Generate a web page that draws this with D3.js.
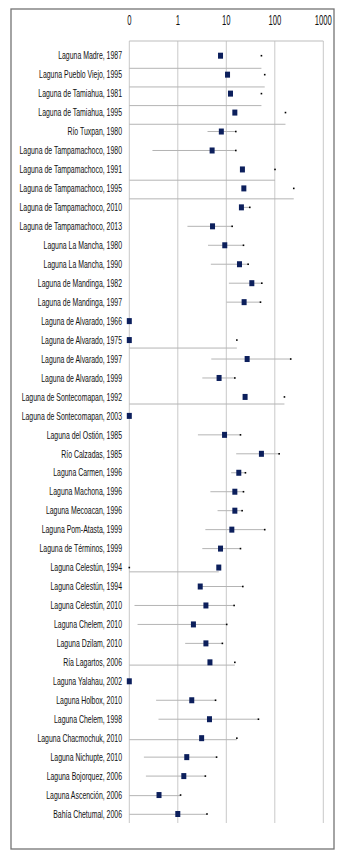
<!DOCTYPE html>
<html>
<head>
<meta charset="utf-8">
<script src="https://cdn.jsdelivr.net/npm/d3@7"></script>
<style>
body { margin: 0; background: #fff; }
svg text { font-family: "Liberation Sans Narrow", "Arial Narrow", "Liberation Sans", Arial, sans-serif; }
</style>
</head>
<body>
<script>
"use strict";
const labels = ["Laguna Madre, 1987", "Laguna Pueblo Viejo, 1995", "Laguna de Tamiahua, 1981", "Laguna de Tamiahua, 1995", "Río Tuxpan, 1980",
	"Laguna de Tampamachoco, 1980", "Laguna de Tampamachoco, 1991", "Laguna de Tampamachoco, 1995", "Laguna de Tampamachoco, 2010", "Laguna de Tampamachoco, 2013",
	"Laguna La Mancha, 1980", "Laguna La Mancha, 1990", "Laguna de Mandinga, 1982", "Laguna de Mandinga, 1997", "Laguna de Alvarado, 1966",
	"Laguna de Alvarado, 1975", "Laguna de Alvarado, 1997", "Laguna de Alvarado, 1999", "Laguna de Sontecomapan, 1992", "Laguna de Sontecomapan, 2003",
	"Laguna del Ostión, 1985", "Río Calzadas, 1985", "Laguna Carmen, 1996", "Laguna Machona, 1996", "Laguna Mecoacan, 1996",
	"Laguna Pom-Atasta, 1999", "Laguna de Términos, 1999", "Laguna Celestún, 1994", "Laguna Celestún, 1994", "Laguna Celestún, 2010",
	"Laguna Chelem, 2010", "Laguna Dzilam, 2010", "Ría Lagartos, 2006", "Laguna Yalahau, 2002", "Laguna Holbox, 2010",
	"Laguna Chelem, 1998", "Laguna Chacmochuk, 2010", "Laguna Nichupte, 2010", "Laguna Bojorquez, 2006", "Laguna Ascención, 2006",
	"Bahía Chetumal, 2006"];
const est = [7.6, 10.6, 12.2, 15, 7.9, 5.1, 21.5, 23, 20.5, 5.2,
	9.3, 18.7, 33.6, 23.3, 0, 0, 26.9, 7.1, 24.4, 0,
	9.2, 53, 18.1, 15, 15, 13, 7.6, 7.0, 2.9, 3.8,
	2.1, 3.8, 4.6, 0, 1.94, 4.5, 3.1, 1.53, 1.33, 0.41,
	1.0];
const lower = [0, 0, 0, 0, 4.1, 0.3, 0, 0, 19, 1.58,
	4.2, 4.8, 11.3, 10.1, null, 0, 4.9, 3.2, 0, null,
	2.6, 16, 12.6, 4.7, 6.6, 3.7, 3.2, 0, 2.9, 0.128,
	0.148, 1.42, 0, null, 0.357, 0.4, 0, 0.2, 0.22, 0,
	0];
const upper = [53, 62, 53, 166, 15.7, 15.7, 101, 246, 30.5, 13.2,
	22.6, 28.2, 54, 50.7, null, 16.5, 213, 15, 158, null,
	19.6, 123, 24.8, 22.6, 21.2, 62, 19.6, 7.0, 21.9, 14.5,
	10.2, 8.3, 15, null, 6.0, 46, 16.5, 6.3, 3.7, 1.14,
	4.0];
const caps = [53, 62, 53, 166, 15.7, 15.7, 101, 246, 30.5, 13.2,
	22.6, 28.2, 54, 50.7, null, 16.5, 213, 15, 158, null,
	19.6, 123, 24.8, 22.6, 21.2, 62, 19.6, 0, 21.9, 14.5,
	10.2, 8.3, 15, null, 6.0, 46, 16.5, 6.3, 3.7, 1.14,
	4.0];
const ticks = [0.1, 1, 10, 100, 1000];
const tickLabels = ["0", "1", "10", "100", "1000"];

const rows = labels.map((d, i) => ({label: d, est: est[i], lo: lower[i], hi: upper[i], cap: caps[i], i: i}));
const svg = d3.select("body").append("svg").attr("width", 354).attr("height", 862);
const x = d3.scaleLog().domain([0.1, 1000]).range([129.3, 323.3]).clamp(true);
const y = d3.scalePoint().domain(d3.range(rows.length)).range([55.7, 814]);
// bars starting at zero sit on a slightly shorter row spacing in the original
const yLow = d3.scalePoint().domain(d3.range(rows.length)).range([68.3, 814.3]);
const plotTop = 41, plotBottom = 823;

svg.append("rect").attr("x", 11).attr("y", 9).attr("width", 323).attr("height", 840)
	.attr("fill", "none").attr("stroke", "#737373").attr("stroke-width", 1.3);

svg.selectAll(".grid").data(ticks).enter().append("line")
	.attr("x1", d => x(d)).attr("x2", d => x(d)).attr("y1", plotTop).attr("y2", plotBottom)
	.attr("stroke", "#c9c9c9").attr("stroke-width", 1);
svg.append("line").attr("x1", x(0.1)).attr("x2", x(1000)).attr("y1", plotTop).attr("y2", plotTop)
	.attr("stroke", "#bdbdbd").attr("stroke-width", 1);

svg.selectAll(".tick").data(ticks).enter().append("text")
	.attr("transform", d => "translate(" + x(d) + ",25.3) scale(0.55,1)")
	.attr("text-anchor", "middle").attr("font-size", 14).attr("fill", "#111")
	.text((d, i) => tickLabels[i]);

svg.selectAll(".label").data(rows).enter().append("text")
	.attr("transform", d => "translate(122," + (y(d.i) + 3.7) + ") scale(0.66,1)")
	.attr("text-anchor", "end").attr("font-size", 10.5).attr("fill", "#111")
	.text(d => d.label);

const bars = rows.filter(d => d.lo !== null);
svg.selectAll(".bar").data(bars).enter().append("line")
	.attr("x1", d => x(d.lo)).attr("x2", d => x(d.hi))
	.attr("y1", d => d.lo === 0 ? yLow(d.i) : y(d.i))
	.attr("y2", d => d.lo === 0 ? yLow(d.i) : y(d.i))
	.attr("stroke", "#b4b4b4").attr("stroke-width", 1);

svg.selectAll(".cap").data(bars).enter().append("rect")
	.attr("x", d => x(d.cap) - 0.8).attr("y", d => y(d.i) - 0.8)
	.attr("width", 1.6).attr("height", 1.6).attr("fill", "#000");

svg.selectAll(".est").data(rows).enter().append("rect")
	.attr("x", d => x(d.est) - 2.5).attr("y", d => y(d.i) - 3)
	.attr("width", 5).attr("height", 6).attr("fill", "#0c1f5c");
</script>
</body>
</html>
